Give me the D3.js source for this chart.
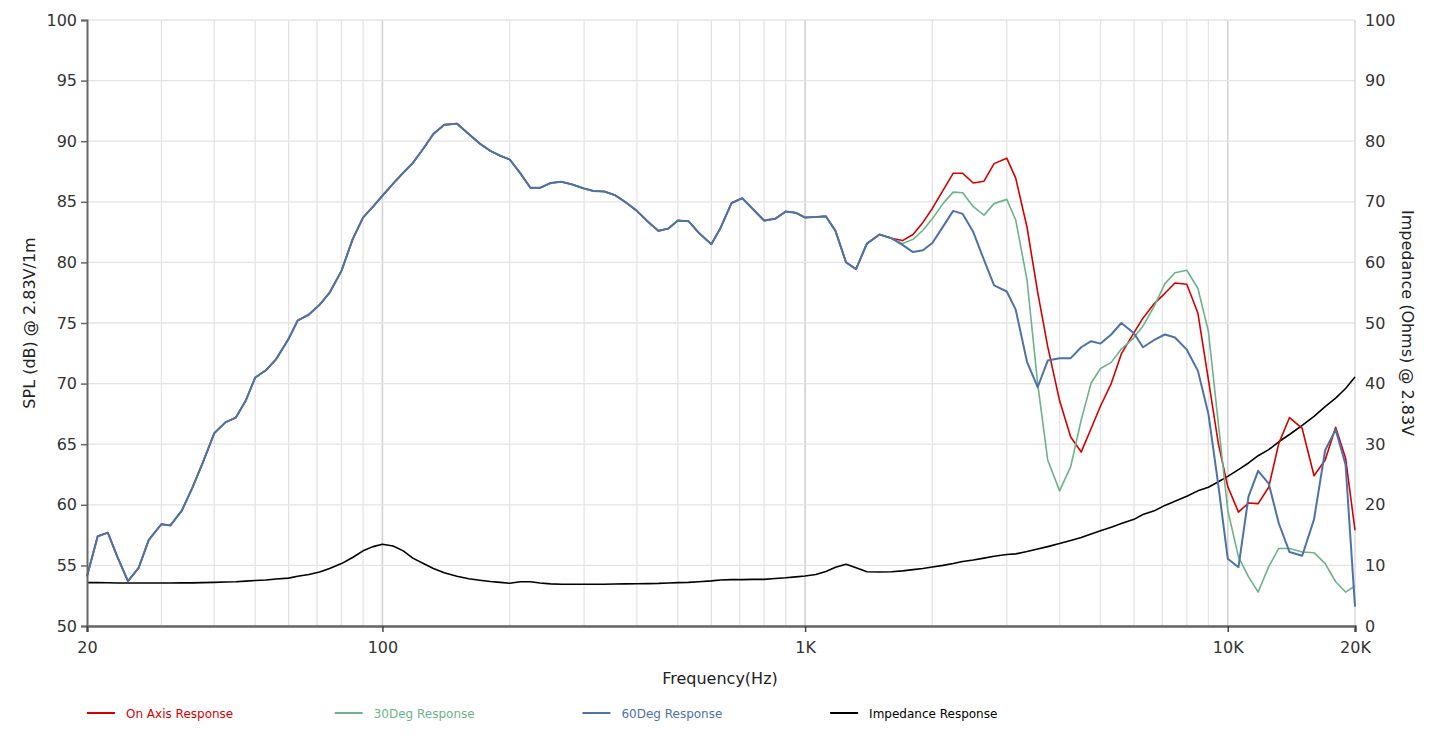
<!DOCTYPE html>
<html>
<head>
<meta charset="utf-8">
<script src="https://cdn.jsdelivr.net/npm/d3@7"></script>
<style>
  html, body { margin: 0; padding: 0; background: #fff; }
  svg { display: block; font-family: "DejaVu Sans", Verdana, sans-serif; }
</style>
</head>
<body>
<svg id="chart" width="1440" height="740"></svg>
<script>
// ── Data (1/12 octave points, R40 series) ─────
const freqs = [
  20, 21.2, 22.4, 23.6, 25, 26.5, 28, 30, 31.5, 33.5, 35.5, 37.5,
  40, 42.5, 45, 47.5, 50, 53, 56, 60, 63, 67, 71, 75, 80, 85, 90, 95,
  100, 106, 112, 118, 125, 132, 140, 150, 160, 170, 180, 190,
  200, 212, 224, 236, 250, 265, 280, 300, 315, 335, 355, 375,
  400, 425, 450, 475, 500, 530, 560, 600, 630, 670, 710, 750, 800, 850, 900, 950,
  1000, 1060, 1120, 1180, 1250, 1320, 1400, 1500, 1600, 1700, 1800, 1900,
  2000, 2120, 2240, 2360, 2500, 2650, 2800, 3000, 3150, 3350, 3550, 3750,
  4000, 4250, 4500, 4750, 5000, 5300, 5600, 6000, 6300, 6700, 7100, 7500, 8000, 8500, 9000, 9500,
  10000, 10600, 11200, 11800, 12500, 13200, 14000, 15000, 16000, 17000, 18000, 19000, 20000
];

// shared part of all three SPL curves (20 Hz .. 1.6 kHz)
const splLow = [
  54.1, 57.4, 57.7, 55.7, 53.7, 54.8, 57.1, 58.4, 58.3, 59.5, 61.4, 63.4,
  65.9, 66.8, 67.2, 68.6, 70.5, 71.1, 72.0, 73.7, 75.2, 75.7, 76.5, 77.5,
  79.3, 81.9, 83.7, 84.6, 85.5, 86.5, 87.4, 88.2, 89.4, 90.6, 91.35, 91.45,
  90.6, 89.8, 89.2, 88.8, 88.5, 87.35, 86.15, 86.15, 86.55, 86.65, 86.45, 86.1,
  85.9, 85.85, 85.55, 85.0, 84.25, 83.35, 82.6, 82.8, 83.45, 83.4, 82.45, 81.5,
  82.8, 84.9, 85.3, 84.45, 83.45, 83.6, 84.2, 84.1, 83.7, 83.75, 83.8, 82.6,
  80.0, 79.45, 81.55, 82.3, 82.0
];

const onAxisHigh = [
  81.8, 82.3, 83.3, 84.45, 85.95, 87.35, 87.35, 86.55, 86.7, 88.15, 88.6, 86.95,
  82.9, 77.55, 73.05, 68.6, 65.6, 64.35, 66.3, 68.15, 70.0, 72.45, 74.2, 75.4,
  76.6, 77.45, 78.3, 78.2, 75.8, 70.3, 65.05, 61.5, 59.4, 60.15, 60.1, 61.45,
  65.05, 67.2, 66.3, 62.4, 63.7, 66.4, 63.85, 57.9
];

const deg30High = [
  81.55, 81.9, 82.65, 83.6, 84.85, 85.8, 85.75, 84.6, 83.9, 84.85, 85.2, 83.5,
  78.55, 70.0, 63.7, 61.15, 63.15, 67.0, 70.05, 71.25, 71.75, 72.85, 73.8, 74.75,
  76.4, 78.25, 79.15, 79.35, 77.85, 74.3, 66.7, 59.55, 55.7, 54.05, 52.8, 54.9,
  56.4, 56.4, 56.1, 56.05, 55.15, 53.65, 52.8, 53.3
];

const deg60High = [
  81.45, 80.85, 81.0, 81.6, 82.95, 84.25, 84.0, 82.5, 80.2, 78.1, 77.6, 76.1,
  71.8, 69.7, 71.9, 72.1, 72.1, 73.0, 73.5, 73.3, 74.05, 75.0, 74.15, 73.0,
  73.6, 74.05, 73.8, 72.8, 71.05, 67.5, 61.6, 55.55, 54.85, 60.7, 62.8, 61.75,
  58.5, 56.1, 55.8, 58.8, 64.5, 66.2, 63.3, 51.6
];

const impedance = [
  7.15, 7.15, 7.13, 7.1, 7.1, 7.1, 7.1, 7.1, 7.1, 7.12, 7.12, 7.15,
  7.2, 7.25, 7.3, 7.4, 7.5, 7.6, 7.75, 7.9, 8.2, 8.5, 8.9, 9.5,
  10.3, 11.3, 12.4, 13.1, 13.5, 13.2, 12.4, 11.2, 10.3, 9.5, 8.8, 8.2,
  7.8, 7.55, 7.35, 7.2, 7.05, 7.3, 7.3, 7.1, 6.95, 6.9, 6.88, 6.88,
  6.88, 6.9, 6.92, 6.95, 6.98, 7.0, 7.03, 7.1, 7.15, 7.2, 7.3, 7.45,
  7.6, 7.65, 7.65, 7.7, 7.7, 7.85, 7.95, 8.1, 8.25, 8.5, 9.0, 9.7,
  10.2, 9.6, 8.95, 8.9, 8.95, 9.1, 9.3, 9.5, 9.75, 10.0, 10.3, 10.65,
  10.9, 11.2, 11.5, 11.8, 11.9, 12.3, 12.7, 13.1, 13.6, 14.1, 14.6, 15.2,
  15.7, 16.3, 16.9, 17.6, 18.4, 19.0, 19.9, 20.6, 21.4, 22.3, 22.9, 23.8,
  24.7, 25.8, 26.9, 28.1, 29.1, 30.4, 31.6, 33.1, 34.6, 36.2, 37.6, 39.2, 41.1
];

const xTickValues = [20, 100, 1000, 10000, 20000];
const xTickLabels = ["20", "100", "1K", "10K", "20K"];
const splTicks = [50, 55, 60, 65, 70, 75, 80, 85, 90, 95, 100];
const impTicks = [0, 10, 20, 30, 40, 50, 60, 70, 80, 90, 100];

const series = [
  { name: "Impedance Response", color: "#000000", values: impedance, axis: "imp", width: 1.6 },
  { name: "On Axis Response",   color: "#d40000", values: splLow.concat(onAxisHigh), axis: "spl", width: 1.6 },
  { name: "30Deg Response",     color: "#6db389", values: splLow.concat(deg30High), axis: "spl", width: 1.6 },
  { name: "60Deg Response",     color: "#4d72a8", values: splLow.concat(deg60High), axis: "spl", width: 2 }
];
const legendOrder = ["On Axis Response", "30Deg Response", "60Deg Response", "Impedance Response"];

// ── Layout ────────────────────────────────────
const L = 87, R = 1355, T = 20, B = 626;
const svg = d3.select("#chart");

const x    = d3.scaleLog().domain([20, 20000]).range([L, R]);
const ySpl = d3.scaleLinear().domain([50, 100]).range([B, T]);
const yImp = d3.scaleLinear().domain([0, 100]).range([B, T]);

// ── Grid ──────────────────────────────────────
const minorFreqs = [];
[10, 100, 1000].forEach(dec => {
  for (let k = 2; k <= 9; k++) {
    const f = k * dec;
    if (f > 20 && f < 20000) minorFreqs.push(f);
  }
});

svg.append("g").selectAll("line")
  .data(minorFreqs)
  .join("line")
  .attr("x1", d => x(d)).attr("x2", d => x(d))
  .attr("y1", T).attr("y2", B)
  .attr("stroke", "#e4e4e4").attr("stroke-width", 1.3);

svg.append("g").selectAll("line")
  .data([100, 1000, 10000])
  .join("line")
  .attr("x1", d => x(d)).attr("x2", d => x(d))
  .attr("y1", T).attr("y2", B)
  .attr("stroke", "#d2d2d2").attr("stroke-width", 1.6);

svg.append("g").selectAll("line")
  .data(splTicks)
  .join("line")
  .attr("x1", L).attr("x2", R)
  .attr("y1", d => ySpl(d)).attr("y2", d => ySpl(d))
  .attr("stroke", "#e4e4e4").attr("stroke-width", 1.3);

// right border
svg.append("line")
  .attr("x1", R).attr("x2", R).attr("y1", T).attr("y2", B)
  .attr("stroke", "#d6d6d6").attr("stroke-width", 1.3);

// ── Curves ────────────────────────────────────
series.forEach(s => {
  const yS = s.axis === "imp" ? yImp : ySpl;
  const line = d3.line()
    .x((d, i) => x(freqs[i]))
    .y(d => yS(d));
  svg.append("path")
    .datum(s.values)
    .attr("d", line)
    .attr("fill", "none")
    .attr("stroke", s.color)
    .attr("stroke-width", s.width)
    .attr("stroke-linejoin", "round");
});

// ── Axes ──────────────────────────────────────
const tickFont = g => g.selectAll(".tick text")
  .attr("fill", "#333")
  .attr("font-size", "16px")
  .attr("font-family", "'DejaVu Sans', Verdana, sans-serif");

svg.append("g")
  .attr("transform", `translate(${L},0)`)
  .call(d3.axisLeft(ySpl).tickValues(splTicks).tickSize(6).tickPadding(4))
  .call(g => g.select(".domain").attr("stroke", "#666").attr("stroke-width", 2))
  .call(g => g.selectAll(".tick line").attr("stroke", "#666").attr("stroke-width", 1.5))
  .call(tickFont);

svg.append("g")
  .attr("transform", `translate(${R},0)`)
  .call(d3.axisRight(yImp).tickValues(impTicks).tickSize(0).tickPadding(10))
  .call(g => g.select(".domain").remove())
  .call(tickFont);

svg.append("g")
  .attr("transform", `translate(0,${B})`)
  .call(d3.axisBottom(x).tickValues(xTickValues)
    .tickFormat((d, i) => xTickLabels[i]).tickSize(6).tickPadding(10))
  .call(g => g.select(".domain").attr("stroke", "#666").attr("stroke-width", 2.5))
  .call(g => g.selectAll(".tick line").attr("stroke", "#444").attr("stroke-width", 1.5))
  .call(tickFont);

// ── Axis titles ───────────────────────────────
svg.append("text")
  .attr("transform", `translate(35,${(T + B) / 2}) rotate(-90)`)
  .attr("text-anchor", "middle")
  .attr("font-size", "16px").attr("fill", "#222")
  .text("SPL (dB) @ 2.83V/1m");

svg.append("text")
  .attr("transform", `translate(1402,${(T + B) / 2}) rotate(90)`)
  .attr("text-anchor", "middle")
  .attr("font-size", "16px").attr("fill", "#222")
  .text("Impedance (Ohms) @ 2.83V");

svg.append("text")
  .attr("x", (L + R) / 2 - 1).attr("y", 684)
  .attr("text-anchor", "middle")
  .attr("font-size", "16px").attr("fill", "#222")
  .text("Frequency(Hz)");

// ── Legend ────────────────────────────────────
const legend = svg.append("g").attr("transform", "translate(87,713)");
legendOrder.forEach((name, i) => {
  const s = series.find(d => d.name === name);
  const g = legend.append("g").attr("transform", `translate(${i * 247.7},0)`);
  g.append("line")
    .attr("x1", 0).attr("x2", 28).attr("y1", 0).attr("y2", 0)
    .attr("stroke", s.color).attr("stroke-width", 2);
  g.append("text")
    .attr("x", 39).attr("y", 4.5)
    .attr("font-size", "12px")
    .attr("fill", s.color)
    .text(name);
});
</script>
</body>
</html>
